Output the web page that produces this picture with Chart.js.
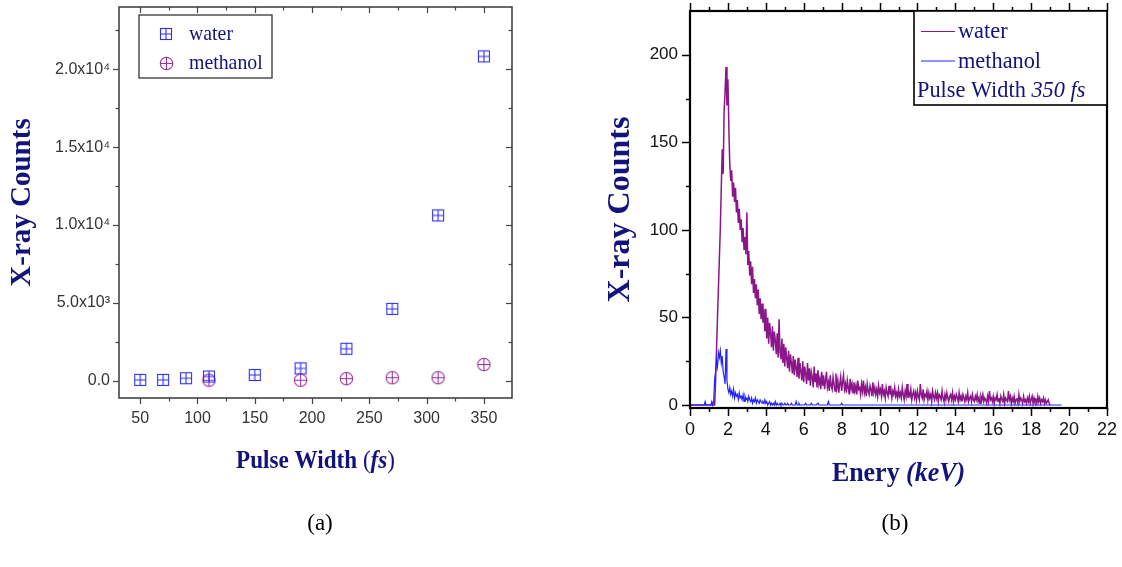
<!DOCTYPE html>
<html>
<head>
<meta charset="utf-8">
<title>X-ray counts: pulse width and spectrum</title>
<script src="https://cdn.jsdelivr.net/npm/chart.js@4.4.1/dist/chart.umd.min.js"></script>
<style>
  html, body { margin: 0; padding: 0; background: #fff; }
  #page { position: relative; width: 1122px; height: 567px; overflow: hidden; }
  canvas { position: absolute; top: 0; }
  #chartA { left: 0; }
  #chartB { left: 560px; }
  .caption {
    position: absolute; top: 510px; line-height: 26px;
    font: 23px 'Liberation Serif', 'Times New Roman', serif; color: #000;
    transform: translateX(-50%);
  }
</style>
</head>
<body>
<div id="page">
  <canvas id="chartA" width="560" height="567"></canvas>
  <canvas id="chartB" width="562" height="567"></canvas>
  <div class="caption" style="left:320px">(a)</div>
  <div class="caption" style="left:895px">(b)</div>
</div>
<script>
// (a) x-ray yield against pulse width
const pulseWidths = [50, 70, 90, 110, 150, 190, 230, 270, 310, 350];
const waterCounts = [60, 60, 170, 280, 380, 800, 2060, 4620, 10620, 20830];
const methanolWidths = [110, 190, 230, 270, 310, 350];
const methanolCounts = [40, 40, 140, 200, 200, 1050];

const pulseTicks = [50, 100, 150, 200, 250, 300, 350];
const pulseMinorTicks = [75, 125, 175, 225, 275, 325];
const countTicks = [0, 5000, 10000, 15000, 20000];
const countTickLabels = ['0.0', '5.0x10³', '1.0x10⁴', '1.5x10⁴', '2.0x10⁴'];
const countMinorTicks = [2500, 7500, 12500, 17500, 22500];

// (b) spectra at 350 fs, 0.05 keV per bin starting at 0 keV (one row = 1 keV)
const binWidth = 0.05;
const waterSpectrum = [
  0, 0, 0, 0, 0, 0, 0, 0, 0, 0, 0, 0, 0, 0, 0, 0, 0, 0, 0, 0,
  0, 0, 0, 0, 0, 0, 0, 14, 32, 50, 67, 84, 101, 124, 146, 132, 168, 179, 193, 171,
  186, 158, 137, 128, 134, 119, 127, 116, 124, 110, 117, 104, 112, 100, 106, 93, 101, 89, 96, 86,
  110, 80, 88, 74, 82, 69, 79, 64, 72, 61, 69, 57, 66, 52, 61, 49, 58, 47, 55, 42,
  55, 38, 50, 35, 47, 41, 33, 45, 31, 42, 37, 29, 41, 27, 49, 30, 26, 38, 24, 35,
  22, 33, 27, 21, 31, 19, 29, 24, 18, 28, 17, 26, 21, 16, 27, 15, 24, 19, 14, 25,
  13, 22, 18, 12, 24, 14, 21, 11, 19, 16, 10, 22, 13, 18, 10, 20, 12, 15, 9, 19,
  11, 17, 9, 14, 19, 10, 13, 8, 17, 11, 9, 16, 12, 8, 18, 10, 14, 7, 12, 16,
  8, 13, 17, 9, 12, 7, 14, 10, 6, 15, 9, 12, 7, 13, 8, 11, 6, 14, 9, 10,
  6, 12, 8, 14, 7, 10, 5, 12, 8, 6, 11, 9, 5, 13, 7, 10, 6, 9, 5, 11,
  7, 9, 5, 12, 6, 8, 4, 10, 7, 5, 11, 6, 9, 4, 8, 6, 10, 5, 7, 4,
  9, 5, 7, 4, 10, 6, 3, 8, 5, 12, 4, 7, 5, 9, 3, 6, 8, 4, 7, 3,
  8, 5, 3, 12, 6, 4, 9, 3, 6, 5, 8, 3, 7, 4, 6, 2, 8, 5, 3, 7,
  4, 7, 2, 6, 5, 3, 8, 4, 2, 6, 3, 7, 4, 2, 5, 6, 3, 7, 2, 5,
  3, 6, 4, 2, 7, 3, 5, 2, 6, 4, 2, 5, 3, 7, 2, 4, 5, 2, 6, 3,
  2, 5, 3, 6, 2, 4, 1, 5, 3, 6, 2, 4, 3, 1, 5, 2, 8, 3, 4, 2,
  5, 1, 4, 3, 6, 2, 4, 1, 5, 3, 2, 6, 1, 4, 3, 2, 8, 3, 5, 1,
  4, 2, 5, 1, 3, 4, 1, 6, 2, 4, 3, 1, 5, 2, 3, 1, 4, 2, 5, 1,
  3, 5, 1, 4, 2, 3, 1, 5, 2, 4, 1, 3, 2, 4, 1, 3, 1, 2, 3, 1,
  0
];
const methanolSpectrum = [
  0, 0, 0, 0, 0, 0, 0, 0, 0, 0, 0, 0, 0, 0, 0, 0, 2, 0, 0, 0,
  0, 0, 0, 2, 0, 2, 15, 19, 26, 22, 30, 27, 31, 24, 28, 19, 16, 12, 32, 14,
  9, 7, 10, 6, 8, 5, 9, 4, 7, 5, 6, 3, 7, 4, 5, 3, 6, 2, 5, 3,
  4, 2, 5, 3, 2, 4, 1, 3, 2, 4, 1, 3, 2, 1, 3, 2, 1, 2, 1, 3,
  1, 2, 0, 1, 2, 0, 1, 0, 1, 0, 2, 0, 1, 0, 0, 1, 0, 1, 0, 0,
  1, 0, 0, 1, 0, 0, 0, 1, 0, 0, 0, 0, 2, 0, 0, 1, 0, 0, 0, 0,
  0, 0, 1, 0, 0, 0, 0, 0, 1, 0, 0, 0, 0, 0, 0, 1, 0, 0, 0, 0,
  0, 0, 0, 0, 0, 0, 2, 0, 0, 0, 0, 0, 0, 0, 0, 0, 0, 0, 0, 0,
  1, 0, 0, 0, 0, 0, 0, 0, 0, 0, 0, 0, 0, 0, 0, 0, 0, 0, 0, 0,
  0, 0, 0, 0, 0, 0, 0, 0, 0, 0, 0, 0, 0, 0, 0, 0, 0, 0, 0, 0,
  0, 0, 0, 0, 0, 0, 0, 0, 0, 0, 0, 0, 0, 0, 0, 0, 0, 0, 0, 0,
  0, 0, 0, 0, 0, 0, 0, 0, 0, 0, 0, 0, 0, 0, 0, 0, 0, 0, 0, 0,
  0, 0, 0, 0, 0, 0, 0, 0, 0, 0, 0, 0, 0, 0, 0, 0, 0, 0, 0, 0,
  0, 0, 0, 0, 0, 0, 0, 0, 0, 0, 0, 0, 0, 0, 0, 0, 0, 0, 0, 0,
  0, 0, 0, 0, 0, 0, 0, 0, 0, 0, 0, 0, 0, 0, 0, 0, 0, 0, 0, 0,
  0, 0, 0, 0, 0, 0, 0, 0, 0, 0, 0, 0, 0, 0, 0, 0, 0, 0, 0, 0,
  0, 0, 0, 0, 0, 0, 0, 0, 0, 0, 0, 0, 0, 0, 0, 0, 0, 0, 0, 0,
  0, 0, 0, 0, 0, 0, 0, 0, 0, 0, 0, 0, 0, 0, 0, 0, 0, 0, 0, 0,
  0, 0, 0, 0, 0, 0, 0, 0, 0, 0, 0, 0, 0, 0, 0, 0, 0, 0, 0, 0,
  0, 0, 0, 0, 0, 0, 0, 0, 0, 0, 0, 0, 0
];

const energyTicks = [0, 2, 4, 6, 8, 10, 12, 14, 16, 18, 20, 22];
const energyMinorTicks = [1, 3, 5, 7, 9, 11, 13, 15, 17, 19, 21];
const spectrumTicks = [0, 50, 100, 150, 200];
const spectrumMinorTicks = [25, 75, 125, 175];

const SERIF = "'Liberation Serif', 'Times New Roman', serif";
const SANS = "'Liberation Sans', Arial, 'DejaVu Sans', sans-serif";
const NAVY = '#13137c';

// little canvases used as point styles
function squareMarker(color) {
  const c = document.createElement('canvas');
  c.width = c.height = 14;
  const g = c.getContext('2d');
  g.strokeStyle = color;
  g.lineWidth = 1.1;
  g.strokeRect(1.5, 1.5, 11, 11);
  g.beginPath();
  g.moveTo(7, 1.5); g.lineTo(7, 12.5);
  g.moveTo(1.5, 7); g.lineTo(12.5, 7);
  g.stroke();
  return c;
}
function circleMarker(color) {
  const c = document.createElement('canvas');
  c.width = c.height = 15;
  const g = c.getContext('2d');
  g.strokeStyle = color;
  g.lineWidth = 1.1;
  g.beginPath();
  g.arc(7.5, 7.5, 6.2, 0, Math.PI * 2);
  g.moveTo(7.5, 1.3); g.lineTo(7.5, 13.7);
  g.moveTo(1.3, 7.5); g.lineTo(13.7, 7.5);
  g.stroke();
  return c;
}

// draws a row of text pieces with their own styles, squeezed horizontally
function drawRuns(ctx, runs, x, y, size, condense, align) {
  const fontOf = r => `${r.style || ''} ${size}px ${SERIF}`;
  let total = 0;
  runs.forEach(r => { ctx.font = fontOf(r); total += ctx.measureText(r.text).width; });
  const start = align === 'center' ? x - total * condense / 2 : x;
  ctx.save();
  ctx.translate(start, y);
  ctx.scale(condense, 1);
  ctx.textAlign = 'left';
  ctx.textBaseline = 'alphabetic';
  let off = 0;
  runs.forEach(r => {
    ctx.font = fontOf(r);
    ctx.fillText(r.text, off, 0);
    off += ctx.measureText(r.text).width;
  });
  ctx.restore();
}

// box around the plot plus major/minor tick marks on each side
const frameTicks = {
  id: 'frameTicks',
  afterDatasetsDraw(chart, args, o) {
    const { ctx, chartArea: a } = chart;
    const xs = chart.scales.x, ys = chart.scales.y;
    ctx.save();
    ctx.strokeStyle = o.color;
    ctx.lineWidth = o.width;
    ctx.strokeRect(a.left, a.top, a.right - a.left, a.bottom - a.top);
    ctx.lineWidth = o.tickWidth;
    const mark = (vals, len, scale, side, dir) => {
      if (!dir) return;
      const s = dir === 'out' ? 1 : -1;
      vals.forEach(v => {
        if (v < scale.min || v > scale.max) return;
        const p = Math.round(scale.getPixelForValue(v)) + 0.5;
        ctx.beginPath();
        if (side === 'bottom') { ctx.moveTo(p, a.bottom); ctx.lineTo(p, a.bottom + s * len); }
        if (side === 'top') { ctx.moveTo(p, a.top); ctx.lineTo(p, a.top - s * len); }
        if (side === 'left') { ctx.moveTo(a.left, p); ctx.lineTo(a.left - s * len, p); }
        if (side === 'right') { ctx.moveTo(a.right, p); ctx.lineTo(a.right + s * len, p); }
        ctx.stroke();
      });
    };
    ['bottom', 'top'].forEach(side => {
      mark(o.x.major, o.majorLen, xs, side, o.x[side]);
      mark(o.x.minor, o.minorLen, xs, side, o.x[side]);
    });
    ['left', 'right'].forEach(side => {
      mark(o.y.major, o.majorLen, ys, side, o.y[side]);
      mark(o.y.minor, o.minorLen, ys, side, o.y[side]);
    });
    ctx.restore();
  }
};

// framed legend; samples are the point images or a short line
const boxLegend = {
  id: 'boxLegend',
  afterDraw(chart, args, o) {
    const { ctx } = chart;
    const b = o.box;
    ctx.save();
    ctx.fillStyle = '#fff';
    ctx.fillRect(b.x, b.y, b.w, b.h);
    ctx.strokeStyle = o.borderColor;
    ctx.lineWidth = o.borderWidth;
    ctx.strokeRect(b.x, b.y, b.w, b.h);
    const sets = chart.data.datasets;
    sets.forEach((ds, i) => {
      const cy = o.firstRow + i * o.rowGap;
      if (o.sample === 'marker') {
        const img = ds.pointStyle;
        ctx.drawImage(img, Math.round(o.sampleX - img.width / 2), Math.round(cy - img.height / 2));
      } else {
        ctx.strokeStyle = ds.borderColor;
        ctx.lineWidth = 1.2;
        ctx.beginPath();
        ctx.moveTo(o.sampleX, cy + 0.5);
        ctx.lineTo(o.sampleX + o.sampleLen, cy + 0.5);
        ctx.stroke();
      }
      ctx.fillStyle = o.color;
      drawRuns(ctx, [{ text: ds.label }], o.textX, cy + o.baseline, o.size, o.condense);
    });
    if (o.extra) {
      ctx.fillStyle = o.color;
      drawRuns(ctx, o.extra, o.extraX, o.firstRow + sets.length * o.rowGap + o.baseline, o.size, o.condense);
    }
    ctx.restore();
  }
};

// x axis title with mixed upright / italic pieces
const axisCaption = {
  id: 'axisCaption',
  afterDraw(chart, args, o) {
    const { ctx, chartArea: a } = chart;
    ctx.save();
    ctx.fillStyle = o.color;
    drawRuns(ctx, o.runs, (a.left + a.right) / 2, o.baseline, o.size, o.condense, 'center');
    ctx.restore();
  }
};

// fixed axis boxes so the plot area lands where it should
const fixWidth = w => s => { s.width = w; s.paddingTop = 0; s.paddingBottom = 0; };
const fixHeight = h => s => { s.height = h; s.paddingLeft = 0; s.paddingRight = 0; };

const waterMarker = squareMarker('#2f2ff2');
const methanolMarker = circleMarker('#993399');

new Chart(document.getElementById('chartA'), {
  type: 'scatter',
  data: {
    datasets: [
      {
        label: 'water',
        data: pulseWidths.map((w, i) => ({ x: w, y: waterCounts[i] })),
        pointStyle: waterMarker,
        pointRadius: 6
      },
      {
        label: 'methanol',
        data: methanolWidths.map((w, i) => ({ x: w, y: methanolCounts[i] })),
        pointStyle: methanolMarker,
        pointRadius: 6
      }
    ]
  },
  options: {
    responsive: false,
    animation: false,
    layout: { padding: { left: 1, top: 5, right: 48, bottom: 0 } },
    plugins: {
      legend: { display: false },
      tooltip: { enabled: false },
      frameTicks: {
        color: '#444', width: 1.6, tickWidth: 1.2, majorLen: 6, minorLen: 3.5,
        x: { major: pulseTicks, minor: pulseMinorTicks, bottom: 'out', top: 'in' },
        y: { major: countTicks, minor: countMinorTicks, left: 'out', right: 'in' }
      },
      boxLegend: {
        box: { x: 139, y: 15, w: 133, h: 63 },
        borderColor: '#444', borderWidth: 1.4,
        sample: 'marker', sampleX: 166, textX: 189,
        firstRow: 34, rowGap: 29, baseline: 6,
        size: 22, condense: 0.9, color: NAVY
      },
      axisCaption: {
        runs: [
          { text: 'Pulse Width ', style: 'bold' },
          { text: '(', style: '' },
          { text: 'fs', style: 'italic bold' },
          { text: ')', style: '' }
        ],
        baseline: 468, size: 26, condense: 0.89, color: NAVY
      }
    },
    scales: {
      x: {
        type: 'linear', min: 31.5, max: 374.5,
        grid: { display: false, drawTicks: false },
        border: { display: false },
        afterBuildTicks: s => { s.ticks = pulseTicks.map(v => ({ value: v })); },
        afterFit: fixHeight(169),
        ticks: { padding: 11, autoSkip: false, maxRotation: 0, color: '#333', font: { family: SANS, size: 16 } }
      },
      y: {
        min: -1100, max: 24000,
        grid: { display: false, drawTicks: false },
        border: { display: false },
        afterBuildTicks: s => { s.ticks = countTicks.map(v => ({ value: v })); },
        afterFit: fixWidth(118),
        title: {
          display: true, text: 'X-ray Counts', color: NAVY,
          font: { family: SERIF, size: 29, weight: 'bold' },
          padding: { top: 4, bottom: 0 }
        },
        ticks: {
          padding: 9, color: '#333', font: { family: SANS, size: 16 },
          callback: (v, i) => countTickLabels[i]
        }
      }
    }
  },
  plugins: [frameTicks, boxLegend, axisCaption]
});

const toPoints = counts => counts.map((c, i) => ({ x: +(i * binWidth).toFixed(2), y: c }));

new Chart(document.getElementById('chartB'), {
  type: 'line',
  data: {
    datasets: [
      {
        label: 'water',
        data: toPoints(waterSpectrum),
        borderColor: '#8a168a',
        borderWidth: 1.5,
        pointRadius: 0,
        order: 1
      },
      {
        label: 'methanol',
        data: toPoints(methanolSpectrum),
        borderColor: '#2323ff',
        borderWidth: 1.2,
        pointRadius: 0,
        order: 0
      }
    ]
  },
  options: {
    responsive: false,
    animation: false,
    layout: { padding: { left: 38, top: 11, right: 15, bottom: 0 } },
    plugins: {
      legend: { display: false },
      tooltip: { enabled: false },
      frameTicks: {
        color: '#000', width: 2.2, tickWidth: 1.5, majorLen: 8, minorLen: 4,
        x: { major: energyTicks, minor: energyMinorTicks, bottom: 'out', top: 'out' },
        y: { major: spectrumTicks, minor: spectrumMinorTicks, left: 'out', right: null }
      },
      boxLegend: {
        box: { x: 354, y: 11, w: 193, h: 94 },
        borderColor: '#000', borderWidth: 1.6,
        sample: 'line', sampleX: 361, sampleLen: 34, textX: 398, extraX: 357,
        firstRow: 31, rowGap: 29.5, baseline: 7,
        size: 24, condense: 0.93, color: NAVY,
        extra: [{ text: 'Pulse Width ', style: '' }, { text: '350 fs', style: 'italic' }]
      },
      axisCaption: {
        runs: [
          { text: 'Enery ', style: 'bold' },
          { text: '(keV)', style: 'italic bold' }
        ],
        baseline: 481, size: 27, condense: 0.96, color: NAVY
      }
    },
    scales: {
      x: {
        type: 'linear', min: 0, max: 22,
        grid: { display: false, drawTicks: false },
        border: { display: false },
        afterBuildTicks: s => { s.ticks = energyTicks.map(v => ({ value: v })); },
        afterFit: fixHeight(159),
        ticks: { padding: 11, autoSkip: false, maxRotation: 0, color: '#111', font: { family: SANS, size: 18 } }
      },
      y: {
        min: -1.7, max: 225,
        grid: { display: false, drawTicks: false },
        border: { display: false },
        afterBuildTicks: s => { s.ticks = spectrumTicks.map(v => ({ value: v })); },
        afterFit: fixWidth(92),
        title: {
          display: true, text: 'X-ray Counts', color: NAVY,
          font: { family: SERIF, size: 32, weight: 'bold' },
          padding: { top: 4, bottom: 0 }
        },
        ticks: { padding: 12, color: '#111', font: { family: SANS, size: 17 } }
      }
    }
  },
  plugins: [frameTicks, boxLegend, axisCaption]
});
</script>
</body>
</html>
